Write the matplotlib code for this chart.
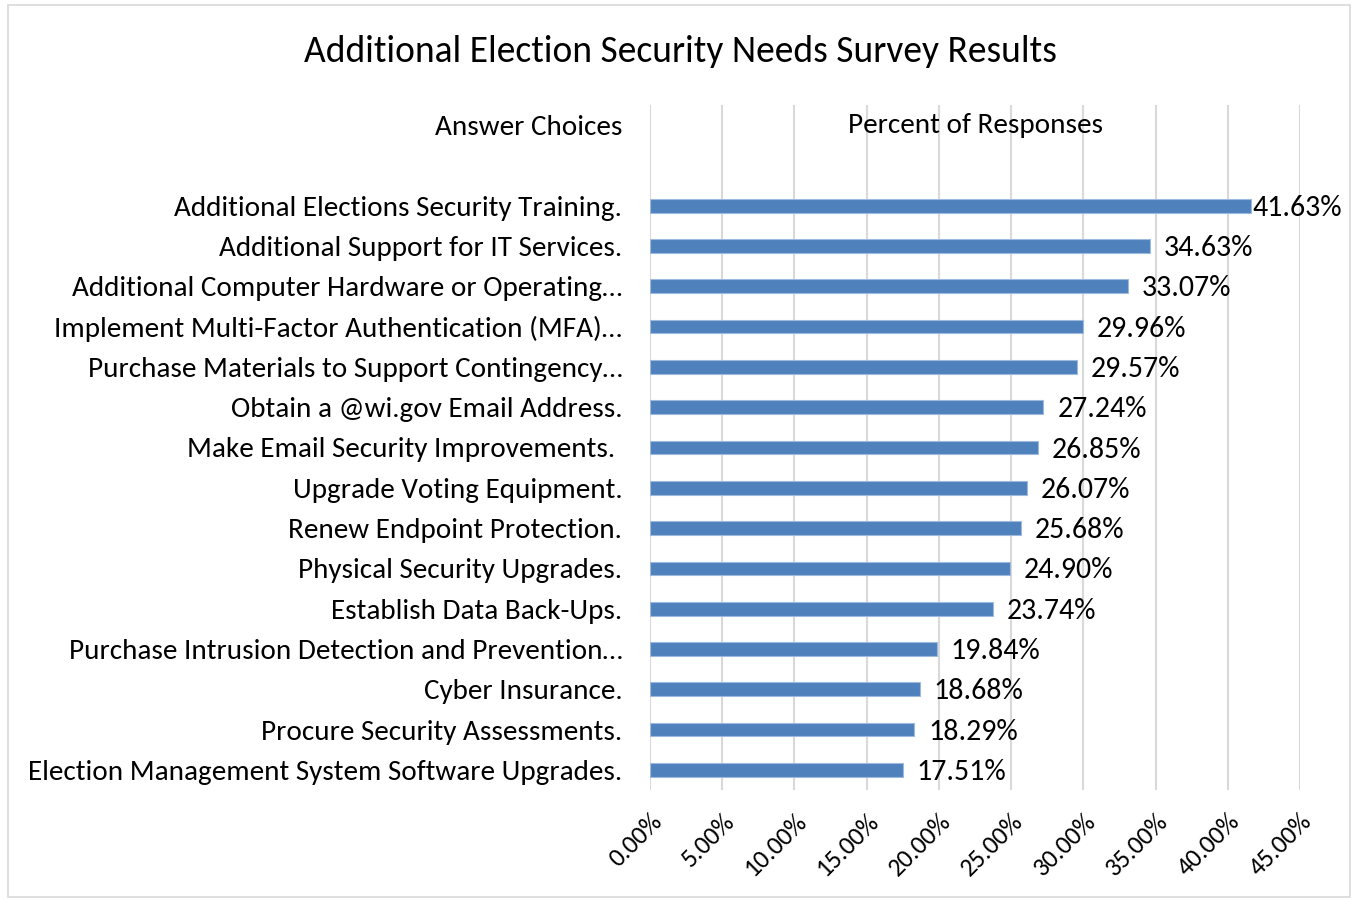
import matplotlib.pyplot as plt
from matplotlib.patches import Rectangle
from matplotlib.ticker import PercentFormatter

plt.rcParams['font.family'] = ['Carlito', 'Lato', 'DejaVu Sans']

# survey data (top to bottom as shown)
answers = [
    'Additional Elections Security Training.',
    'Additional Support for IT Services.',
    'Additional Computer Hardware or Operating…',
    'Implement Multi-Factor Authentication (MFA)…',
    'Purchase Materials to Support Contingency…',
    'Obtain a @wi.gov Email Address.',
    'Make Email Security Improvements. ',
    'Upgrade Voting Equipment.',
    'Renew Endpoint Protection.',
    'Physical Security Upgrades.',
    'Establish Data Back-Ups.',
    'Purchase Intrusion Detection and Prevention…',
    'Cyber Insurance.',
    'Procure Security Assessments.',
    'Election Management System Software Upgrades.',
]
percents = [41.63, 34.63, 33.07, 29.96, 29.57, 27.24, 26.85, 26.07,
            25.68, 24.90, 23.74, 19.84, 18.68, 18.29, 17.51]
x_ticks = [0, 5, 10, 15, 20, 25, 30, 35, 40, 45]

# header row + blank row on top, like the excel sheet
cats = ['Answer Choices', ''] + answers
n = len(cats)
ypos = [n - 1 - i for i in range(n)]

fig = plt.figure(figsize=(13.53, 9), dpi=100)
ax = fig.add_axes([650 / 1353, 1 - 790 / 900, 650 / 1353, 685 / 900])

bar_y = ypos[2:]
ax.barh(bar_y, percents, height=0.34, color='#4F81BD', edgecolor='#9DB9DE', linewidth=0.8, zorder=3)

for y, v in zip(bar_y, percents):
    pad = 1 if v == max(percents) else 10
    ax.annotate(f'{v:.2f}%', (v, y), xytext=(pad, -1.5), textcoords='offset points',
                va='center', ha='left', fontsize=21.5)

ax.set_xlim(0, 45)
ax.set_ylim(-0.5, n - 0.5)
ax.set_xticks(x_ticks)
ax.xaxis.set_major_formatter(PercentFormatter(decimals=2))
ax.set_yticks(ypos)
ax.set_yticklabels(cats, fontsize=21)
ax.tick_params(axis='y', length=0, pad=20)
ax.tick_params(axis='x', length=0, pad=14, labelsize=18.5)
for lab in ax.get_xticklabels():
    lab.set_rotation(45)
    lab.set_ha('right')
    lab.set_va('top')
    lab.set_rotation_mode('anchor')

ax.grid(axis='x', color='#D9D9D9', linewidth=1.5, zorder=0)
for s in ax.spines.values():
    s.set_visible(False)

ax.text(22.5, n - 1, 'Percent of Responses', ha='center', va='center', fontsize=21)

fig.text(680 / 1353, 1 - 52 / 900, 'Additional Election Security Needs Survey Results',
         ha='center', va='center', fontsize=27)

fig.patches.append(Rectangle((8 / 1353, 3 / 900), 1342 / 1353, 892 / 900, transform=fig.transFigure,
                             fill=False, edgecolor='#D9D9D9', linewidth=1.2))

fig.savefig('out.png', dpi=100)
